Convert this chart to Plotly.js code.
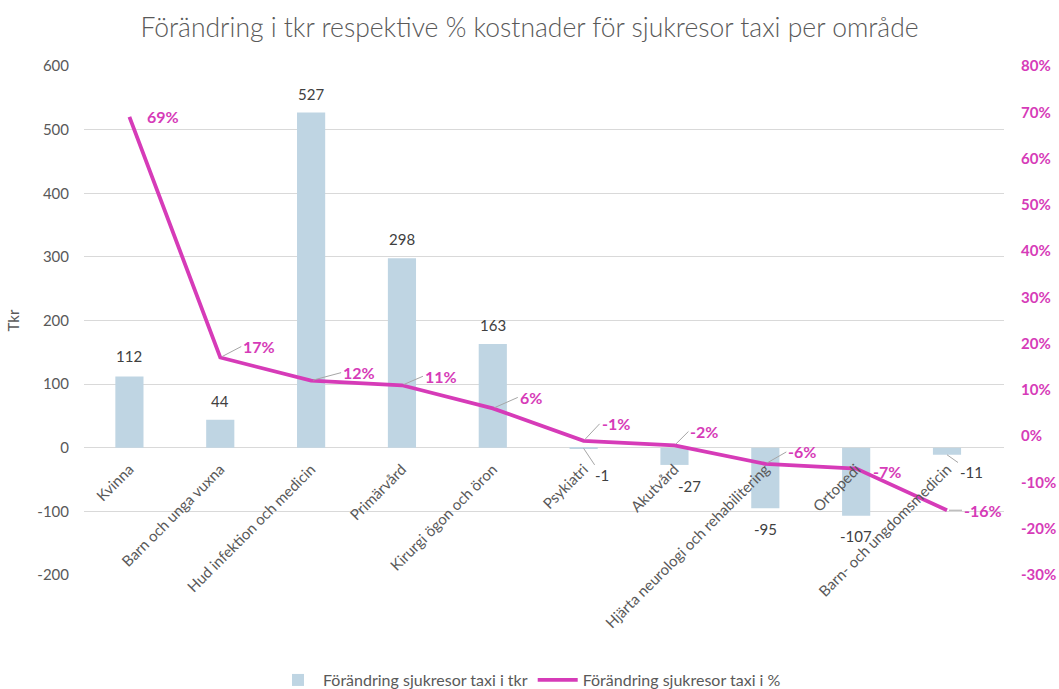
<!DOCTYPE html>
<html>
<head>
<meta charset="utf-8">
<script src="https://cdn.plot.ly/plotly-3.0.1.min.js"></script>
<style>
  html, body { margin: 0; padding: 0; background: #fff; }
  #chart { width: 1059px; height: 689px; }
</style>
</head>
<body>
<div id="chart"></div>
<script>
// Förändring sjukresor taxi per område: staplar i tkr (vänster axel), linje i % (höger axel).

const categories = [
  'Kvinna', 'Barn och unga vuxna', 'Hud infektion och medicin', 'Primärvård',
  'Kirurgi ögon och öron', 'Psykiatri', 'Akutvård',
  'Hjärta neurologi och rehabilitering', 'Ortopedi', 'Barn- och ungdomsmedicin',
];
const changeTkr = [112, 44, 527, 298, 163, -1, -27, -95, -107, -11];
const changePct = [69, 17, 12, 11, 6, -1, -2, -6, -7, -16];

const tkrTicks = [-200, -100, 0, 100, 200, 300, 400, 500, 600];
const pctTicks = [-30, -20, -10, 0, 10, 20, 30, 40, 50, 60, 70, 80];

const BAR = '#bfd5e3';
const MAGENTA = '#d63bb8';
const GREY = '#595959';
const FONT = 'Lato, Calibri, sans-serif';

// label placement in px (dx, dy) relative to the point, like Excel moved them
const barShift = [[0, 20], [0, 19], [0, 18], [0, 19], [0, 19], [18, 27], [15, 21], [0, 21], [0, 20], [24, 17]];
const pctShift = [[16, 0], [21, -11], [30, -8], [21, -9], [25, -11], [16, -17], [14, -14], [21, -12], [15, 3], [15, 0]];
const barLeader = [false, false, false, false, false, true, false, false, false, true];
const pctLeader = [false, true, true, true, true, true, true, true, false, true];

const barTrace = {
  type: 'bar', x: categories, y: changeTkr, name: 'Förändring sjukresor taxi i tkr',
  marker: { color: BAR }, hoverinfo: 'x+y',
};
const lineTrace = {
  type: 'scatter', mode: 'lines', x: categories, y: changePct, yaxis: 'y2',
  name: 'Förändring sjukresor taxi i %',
  line: { color: MAGENTA, width: 3.8 }, hovertemplate: '%{y}%<extra></extra>',
};

const annotations = [];
changeTkr.forEach((v, i) => {
  const [dx, dy] = barShift[i];
  const up = v >= 0;
  if (barLeader[i]) {
    annotations.push({
      x: categories[i], y: v, xref: 'x', yref: 'y', text: String(v),
      showarrow: true, arrowhead: 0, arrowwidth: 1, arrowcolor: '#a6a6a6',
      ax: dx, ay: dy, standoff: 0,
      font: { family: FONT, size: 15, color: '#404040' },
    });
  } else {
    annotations.push({
      x: categories[i], y: v, xref: 'x', yref: 'y', text: String(v), showarrow: false,
      xshift: dx, yshift: up ? dy : -dy,
      font: { family: FONT, size: 15, color: '#404040' },
    });
  }
});
changePct.forEach((v, i) => {
  const [dx, dy] = pctShift[i];
  annotations.push({
    x: categories[i], y: v, xref: 'x', yref: 'y2', text: '<b>' + v + '%</b>',
    showarrow: true, arrowhead: 0, arrowwidth: 1,
    arrowcolor: pctLeader[i] ? '#a6a6a6' : 'rgba(0,0,0,0)',
    ax: dx, ay: dy, standoff: 2, xanchor: 'left',
    font: { family: FONT, size: 16, color: MAGENTA },
  });
});

const layout = {
  width: 1059, height: 689,
  paper_bgcolor: '#fff', plot_bgcolor: '#fff',
  font: { family: FONT, size: 15, color: GREY },
  margin: { l: 84, r: 55, t: 66, b: 114 },
  title: {
    text: 'Förändring i tkr respektive % kostnader för sjukresor taxi per område',
    x: 0.5, xref: 'container', y: 0.96, yanchor: 'middle',
    font: { family: FONT, size: 26.5, color: GREY, weight: 300 },
  },
  bargap: 0.69,
  showlegend: true,
  legend: {
    orientation: 'h', xref: 'container', x: 0.5, xanchor: 'center',
    yref: 'container', y: 0.013, yanchor: 'middle', itemwidth: 40,
    font: { family: FONT, size: 16, color: GREY }, traceorder: 'normal',
  },
  xaxis: {
    type: 'category', anchor: 'free', position: 0.25,
    tickangle: -45, showgrid: false, showline: false, ticks: '', zeroline: false,
    ticklabelstandoff: 9,
    tickfont: { family: FONT, size: 15, color: GREY }, automargin: false,
  },
  yaxis: {
    range: [-200, 600], tickvals: tkrTicks, ticktext: tkrTicks.map(String),
    showgrid: true, gridcolor: '#d9d9d9', gridwidth: 1,
    zeroline: false, showline: false, ticks: '', ticklabelstandoff: 14,
    tickfont: { family: FONT, size: 15, color: GREY }, automargin: false,
    title: { text: 'Tkr', standoff: 14, font: { family: FONT, size: 15, color: GREY } },
  },
  yaxis2: {
    overlaying: 'y', side: 'right', range: [-30, 80],
    tickvals: pctTicks, ticktext: pctTicks.map(v => v + '%'),
    showgrid: false, zeroline: false, showline: false, ticks: '', ticklabelstandoff: 16,
    tickfont: { family: FONT, size: 15, color: MAGENTA, weight: 'bold' }, automargin: false,
  },
  annotations,
};

Plotly.newPlot('chart', [barTrace, lineTrace], layout, { displayModeBar: false, responsive: false });
</script>
</body>
</html>
